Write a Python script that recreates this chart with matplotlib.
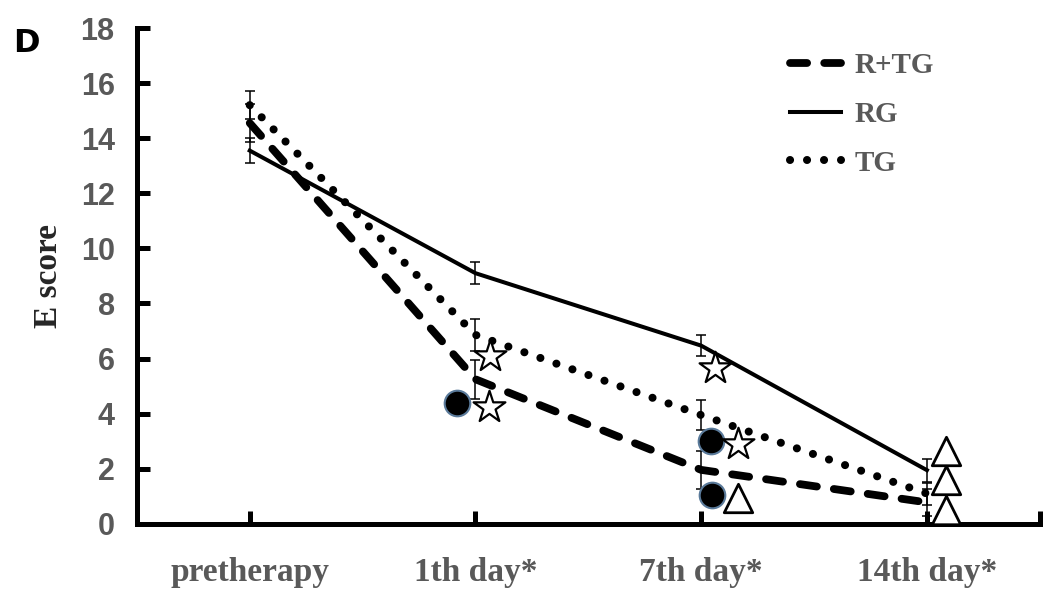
import matplotlib.pyplot as plt
import numpy as np

# categories and group means
categories = ['pretherapy', '1th day*', '7th day*', '14th day*']
rtg = [14.55, 5.25, 1.96, 0.78]
rtg_err = [0.7, 0.7, 0.69, 0.48]
rg = [13.55, 9.1, 6.47, 1.95]
rg_err = [0.45, 0.4, 0.39, 0.42]
tg = [15.2, 6.86, 3.95, 1.1]
tg_err = [0.52, 0.57, 0.54, 0.4]

# significance symbols next to the points (x in category units)
circle_x = [0.92, 2.045, 2.05]
circle_y = [4.4, 3.0, 1.05]
star_x = [1.06, 1.065, 2.06, 2.165]
star_y = [4.25, 6.1, 5.65, 2.9]
tri_x = [2.165, 3.085, 3.085, 3.085]
tri_y = [0.95, 2.65, 1.6, 0.5]

gray = '#595959'
serif = ['Liberation Serif', 'DejaVu Serif']
sans = ['Liberation Sans', 'DejaVu Sans']

fig = plt.figure(figsize=(10.45, 5.96), dpi=100)
ax = fig.add_axes([0.131, 0.121, 0.864, 0.832])

x = np.arange(len(categories))

ax.errorbar(x, rtg, yerr=rtg_err, fmt='none', ecolor='black', elinewidth=1.1,
            capsize=3.6, capthick=1.1, zorder=2)
ax.errorbar(x, rg, yerr=rg_err, fmt='none', ecolor='black', elinewidth=1.1,
            capsize=3.6, capthick=1.1, zorder=2)
ax.errorbar(x, tg, yerr=tg_err, fmt='none', ecolor='black', elinewidth=1.1,
            capsize=3.6, capthick=1.1, zorder=2)

ax.plot(x, rtg, color='black', lw=5.6, linestyle=(0, (2.2, 2.2)),
        dash_capstyle='round', solid_capstyle='round', label='R+TG', zorder=3)
ax.plot(x, rg, color='black', lw=2.9, linestyle='-', label='RG', zorder=3)
ax.plot(x, tg, color='black', lw=5.8, linestyle=(0, (0.01, 2.1)),
        dash_capstyle='round', label='TG', zorder=3)

ax.scatter(circle_x, circle_y, s=340, marker='o', facecolor='black',
           edgecolor='#5a7a9a', linewidth=1.5, zorder=4)
ax.scatter(star_x, star_y, s=580, marker='*', facecolor='white',
           edgecolor='black', linewidth=1.6, zorder=4)
ax.scatter(tri_x, tri_y, s=420, marker='^', facecolor='white',
           edgecolor='black', linewidth=2.0, zorder=4)

ax.set_xlim(-0.5, 3.5)
ax.set_ylim(0, 18)
ax.set_xticks(list(x) + [3.5])
ax.set_xticklabels(categories + [''])
ax.set_yticks(np.arange(0, 19, 2))

for side in ['top', 'right']:
    ax.spines[side].set_visible(False)
for side in ['left', 'bottom']:
    ax.spines[side].set_linewidth(3.6)
    ax.spines[side].set_capstyle('projecting')

ax.tick_params(axis='y', direction='in', length=9.5, width=3.6, pad=16,
               labelsize=22, labelcolor=gray)
ax.tick_params(axis='x', direction='in', length=9.5, width=3.6, pad=24,
               labelsize=24, labelcolor=gray)
for lab in ax.get_yticklabels():
    lab.set_family(sans)
    lab.set_fontweight('bold')
for lab in ax.get_xticklabels():
    lab.set_family(serif)
    lab.set_fontweight('bold')

ax.set_ylabel('E score', fontsize=24, fontweight='bold', family=serif,
              color='#262626', labelpad=12)

fig.text(0.013, 0.912, 'D', fontsize=23, fontweight='bold', color='black',
         family=['DejaVu Sans'])

leg = ax.legend(loc='upper left', bbox_to_anchor=(0.756, 0.913),
                bbox_transform=fig.transFigure, frameon=False,
                prop={'family': serif, 'weight': 'bold', 'size': 21},
                handlelength=1.75, handletextpad=0.45, labelspacing=0.75,
                borderpad=0, borderaxespad=0)
for t in leg.get_texts():
    t.set_color(gray)

fig.savefig('out.png', dpi=100)
